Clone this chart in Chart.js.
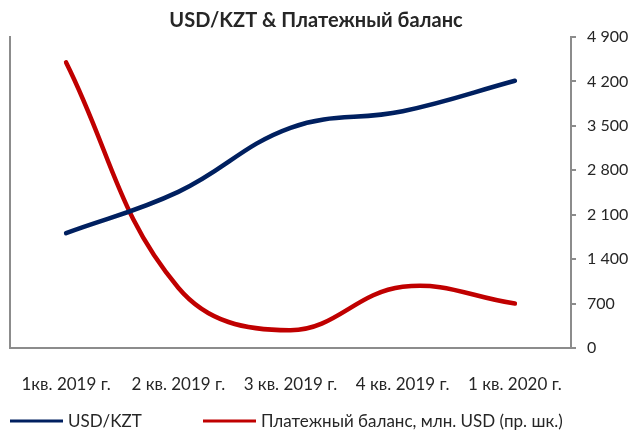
<!DOCTYPE html>
<html>
<head>
<meta charset="utf-8">
<script src="https://cdn.jsdelivr.net/npm/chart.js@4/dist/chart.umd.min.js"></script>
<style>
    html, body { margin: 0; padding: 0; background: #fff; }
</style>
</head>
<body>
<canvas id="myChart" width="636" height="430"></canvas>
<script>
// данные с графика
var quarters = ['1кв. 2019 г.', '2 кв. 2019 г.', '3 кв. 2019 г.', '4 кв. 2019 г.', '1 кв. 2020 г.'];
var usdKzt = [1810, 2460, 3470, 3730, 4210];
var balance = [4500, 950, 280, 965, 700];
var rightTicks = [0, 700, 1400, 2100, 2800, 3500, 4200, 4900];
var seriesNames = ['USD/KZT', 'Платежный баланс, млн. USD (пр. шк.)'];

var axisGray = '#8c8c8c';
var textColor = '#262626';
var legendX = [10, 203];

var formatThousands = (v) => String(v).replace(/\B(?=(\d{3})+(?!\d))/g, ' ');

// легенда внизу рисуется вручную, чтобы позиции совпали
var bottomLegend = {
    id: 'bottomLegend',
    afterDraw: function (chart) {
        var ctx = chart.ctx;
        ctx.save();
        chart.data.datasets.forEach(function (ds, i) {
            var x = legendX[i];
            var y = 421;
            ctx.strokeStyle = ds.borderColor;
            ctx.lineWidth = 3;
            ctx.beginPath();
            ctx.moveTo(x, y);
            ctx.lineTo(x + 53, y);
            ctx.stroke();
            ctx.fillStyle = textColor;
            ctx.font = '17px Lato';
            ctx.textBaseline = 'middle';
            ctx.fillText(ds.label, x + 58, y + 1);
        });
        ctx.restore();
    }
};

var chartElement = document.getElementById('myChart').getContext('2d');
var lineChart = new Chart(chartElement, {
    type: 'line',
    data: {
        labels: quarters,
        datasets: [{
            label: seriesNames[0],
            data: usdKzt,
            yAxisID: 'y',
            borderColor: '#002060',
            borderWidth: 4.5,
            borderCapStyle: 'round',
            tension: 0.4,
            pointRadius: 0,
            fill: false
        }, {
            label: seriesNames[1],
            data: balance,
            yAxisID: 'y1',
            borderColor: '#c00000',
            borderWidth: 4.5,
            borderCapStyle: 'round',
            tension: 0.4,
            pointRadius: 0,
            fill: false
        }]
    },
    options: {
        responsive: false,
        animation: false,
        layout: {
            padding: { left: 0, right: 4, top: 0, bottom: 31.8 }
        },
        plugins: {
            legend: { display: false },
            tooltip: { enabled: false },
            title: {
                display: true,
                text: 'USD/KZT & Платежный баланс',
                color: textColor,
                font: { family: 'Lato', size: 20, weight: 'bold' },
                padding: { top: 8.5, bottom: 4.5 }
            }
        },
        scales: {
            x: {
                type: 'category',
                offset: true,
                // невидимые засечки дают отступ подписей от оси
                grid: {
                    display: true,
                    drawOnChartArea: false,
                    drawTicks: true,
                    tickLength: 23.8,
                    color: 'rgba(0,0,0,0)'
                },
                border: { display: true, color: axisGray, width: 2 },
                ticks: {
                    color: textColor,
                    font: { family: 'Lato', size: 17 },
                    padding: 3,
                    maxRotation: 0,
                    autoSkip: false
                }
            },
            y: {
                position: 'left',
                min: 0,
                max: 4900,
                grid: { display: false, drawTicks: false },
                border: { display: true, color: axisGray, width: 2 },
                ticks: { display: false },
                afterFit: function (axis) { axis.width = 10; }
            },
            y1: {
                position: 'right',
                min: 0,
                max: 4900,
                afterBuildTicks: function (axis) {
                    axis.ticks = rightTicks.map((v) => ({ value: v }));
                },
                afterFit: function (axis) { axis.width = 61; },
                grid: {
                    drawOnChartArea: false,
                    drawTicks: true,
                    tickLength: 5,
                    color: axisGray,
                    lineWidth: 2
                },
                border: { display: true, color: axisGray, width: 2 },
                ticks: {
                    color: textColor,
                    font: { family: 'Lato', size: 16 },
                    padding: 11,
                    callback: (v) => formatThousands(v)
                }
            }
        }
    },
    plugins: [bottomLegend]
});
</script>
</body>
</html>
